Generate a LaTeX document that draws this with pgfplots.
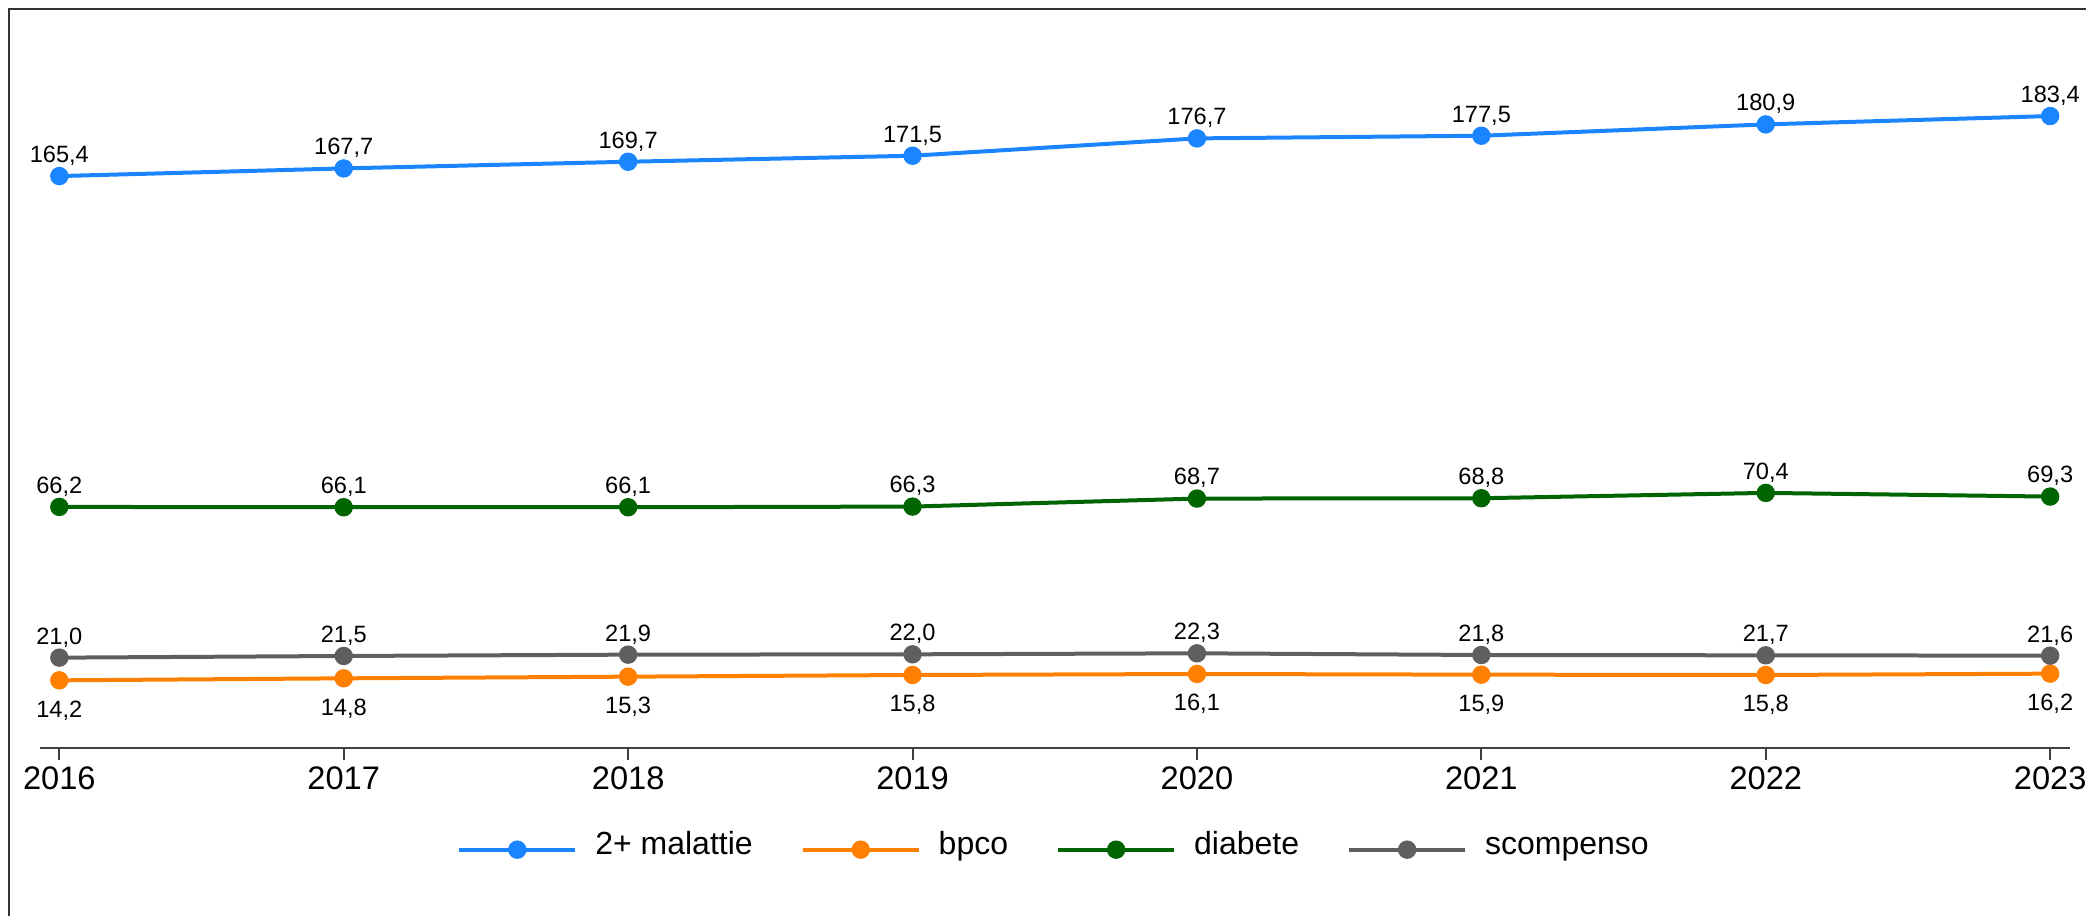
\documentclass[border=0pt]{standalone}
\usepackage{fontspec}
\setmainfont{Liberation Sans}
\usepackage{pgfplots}
\pgfplotsset{compat=1.18}
\definecolor{cblue}{HTML}{1A85FF}
\definecolor{corange}{HTML}{FF8000}
\definecolor{cgreen}{HTML}{006400}
\definecolor{cgray}{HTML}{5F5F5F}
\pgfplotsset{
  lab/.style={
    nodes near coords={\pgfmathprintnumber[fixed,fixed zerofill,precision=1,use comma]{\pgfplotspointmeta}},
    every node near coord/.append style={anchor=base, inner sep=0pt, yshift=#1, text=black, font=\fontsize{11.8}{14}\selectfont},
  },
  ser/.style={color=#1, line width=2pt, mark=*, mark size=4.3pt, mark options={solid, line width=0.6pt, fill=#1}},
}
\begin{document}
\begin{tikzpicture}[x=1pt,y=1pt]
\useasboundingbox (0,0) rectangle (1043,457.5);
\draw[line width=1pt, color=black!80] (4.25,-1) -- (4.25,453) -- (1044,453);
\begin{axis}[
  at={(20pt,83.65pt)}, anchor=south west,
  scale only axis, width=1015pt, height=348.5pt,
  xmin=2015.932, xmax=2023.07, ymin=-6, ymax=203,
  axis x line=bottom, axis y line=none,
  x axis line style={-, color=black!75, line width=1pt},
  xtick={2016,2017,2018,2019,2020,2021,2022,2023},
  major tick length=6pt, tick align=outside,
  x tick style={color=black!75, line width=1pt},
  xticklabel style={font=\fontsize{16.3}{19}\selectfont, text=black},
  /pgf/number format/assume math mode=true,
  /pgf/number format/1000 sep={},
  clip=false,
  legend columns=4,
  legend style={at={(0.5,-0.1463)}, anchor=center, draw=none, fill=none,
    font=\fontsize{16}{19}\selectfont,
    nodes={text height=0.75em, text depth=0.22em},
    /tikz/every odd column/.append style={column sep=7pt},
    /tikz/every even column/.append style={column sep=22pt}},
  legend image code/.code={\draw[mark repeat=2,mark phase=2,#1] plot coordinates {(0pt,0pt) (29pt,0pt) (58pt,0pt)};},
]
\addplot[ser=cblue, lab=6.8pt] coordinates {(2016,165.4) (2017,167.7) (2018,169.7) (2019,171.5) (2020,176.7) (2021,177.5) (2022,180.9) (2023,183.4)};
\addlegendentry{2+ malattie}
\addplot[ser=corange, lab=-18.5pt] coordinates {(2016,14.2) (2017,14.8) (2018,15.3) (2019,15.8) (2020,16.1) (2021,15.9) (2022,15.8) (2023,16.2)};
\addlegendentry{bpco}
\addplot[ser=cgreen, lab=6.8pt] coordinates {(2016,66.2) (2017,66.1) (2018,66.1) (2019,66.3) (2020,68.7) (2021,68.8) (2022,70.4) (2023,69.3)};
\addlegendentry{diabete}
\addplot[ser=cgray, lab=6.8pt] coordinates {(2016,21.0) (2017,21.5) (2018,21.9) (2019,22.0) (2020,22.3) (2021,21.8) (2022,21.7) (2023,21.6)};
\addlegendentry{scompenso}
\end{axis}
\end{tikzpicture}
\end{document}
